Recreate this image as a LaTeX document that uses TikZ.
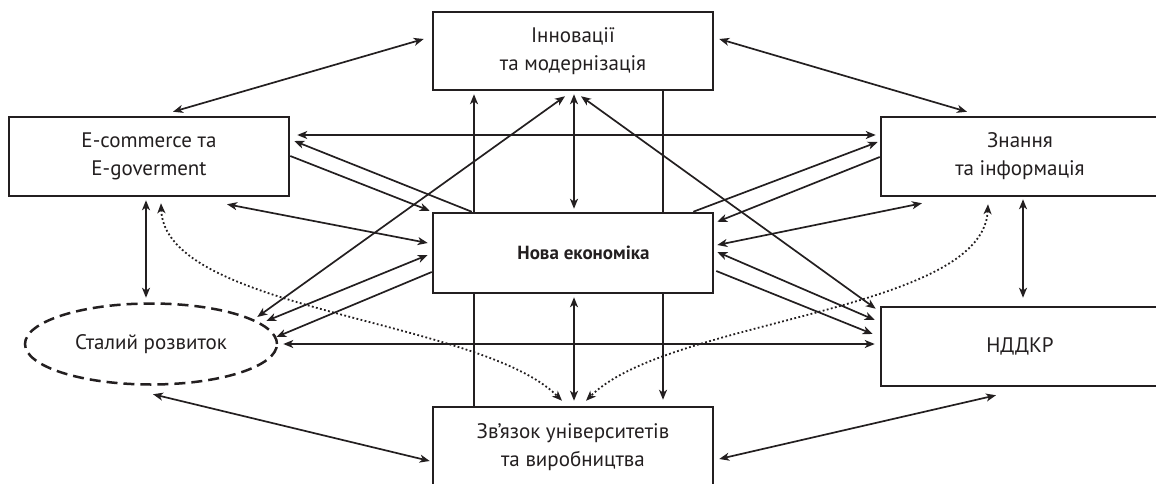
\documentclass[tikz,border=0pt]{standalone}
\usepackage{fontspec}
\setmainfont{PT Sans}
\usetikzlibrary{arrows.meta,shapes.geometric,calc,backgrounds}
\definecolor{ink}{HTML}{231F20}
\begin{document}
\begin{tikzpicture}[x=1pt,y=-1pt,
  >={Stealth[length=10pt,width=8pt,inset=2.8pt]},
  box/.style={draw=ink, line width=2.5pt, fill=white, minimum width=280pt,
    minimum height=79pt, inner sep=0pt, align=center, text=ink,
    font=\fontsize{21}{28}\selectfont},
  oval/.style={ellipse, draw=ink, line width=2.5pt, dash pattern=on 11pt off 6pt,
    fill=white, minimum width=252pt, minimum height=81pt, inner sep=0pt,
    text=ink, font=\fontsize{21}{28}\selectfont},
  conn/.style={draw=ink, line width=1.7pt},
  thickconn/.style={draw=ink, line width=2.5pt},
  dotconn/.style={draw=ink, line width=1.8pt, dash pattern=on 1.8pt off 2.4pt}
]
\useasboundingbox (0,0) rectangle (1156,484);
\clip (0,0) rectangle (1156,484);

\node[box, minimum height=78pt] (inn) at (573,51) {Інновації\\та модернізація};
\node[box] (ecm) at (149,156.5) {E-commerce та\\E-goverment};
\node[box, minimum width=278pt] (kn) at (1020,156.5) {Знання\\та інформація};
\node[box, minimum height=80pt, font=\fontsize{19}{24}\selectfont\bfseries] (eco) at (573,253) {\hspace*{21pt}Нова економіка};
\node[box, minimum width=278pt] (rd) at (1020,346.5) {НДДКР};
\node[box, minimum height=80pt] (uni) at (573,447) {Зв’язок університетів\\та виробництва};
\node[oval] (sd) at (151,344) {Сталий розвиток};

\begin{scope}[on background layer]
% top links
\draw[conn,<->] ($(inn.west)+(-8,-12)$) -- ($(ecm.north)+(24,-4)$);
\draw[conn,<->] ($(inn.east)+(5,-12)$) -- ($(kn.north)+(-53,-4)$);
\draw[conn,<->] ($(ecm.east)+(7,-21.5)$) -- ($(kn.west)+(-4,-21.5)$);
% E-commerce <-> Nova
\draw[conn,->] ($(eco.north west)+(40,0)$) -- ($(ecm.east)+(4,-15.5)$);
\draw[conn,->] ($(ecm.east)+(0,-0.5)$) -- ($(eco.north west)+(-2,-1)$);
\draw[conn,<->] ($(ecm.south)+(78,7)$) -- ($(eco.west)+(-4,-10)$);
% E-commerce <-> Stalyi
\draw[conn,<->] ($(ecm.south)+(-3,3)$) -- ($(sd.north)+(-5,-4.5)$);
% verticals
\draw[thickconn,->] ($(uni.north)+(-99,0)$) -- ($(inn.south)+(-99,3)$);
\draw[conn,->] ($(inn.south)+(90,0)$) -- ($(uni.north)+(90,-6)$);
\draw[conn,<->] ($(inn.south)+(1,3)$) -- ($(eco.north)+(1,-3)$);
\draw[conn,<->] ($(eco.south)+(1,3)$) -- ($(uni.north)+(1,-5)$);
% Innovation diagonals
\draw[conn,<->] ($(inn.south)+(-8,5)$) -- ($(sd.east)+(-21,-27)$);
\draw[conn,<->] ($(inn.south)+(8,5)$) -- ($(rd.north west)+(-4,3)$);
% Nova <-> Stalyi
\draw[conn,<->] ($(eco.west)+(-4,2)$) -- ($(sd.east)+(-12,-23)$);
\draw[conn,->] ($(eco.west)+(0,19)$) -- ($(sd.east)+(-2,-7)$);
\draw[conn,<->] ($(sd.east)+(5,0)$) -- ($(rd.west)+(-5,-2.5)$);
\draw[conn,<->] ($(sd.south)+(2,8.5)$) -- ($(uni.west)+(-2,14)$);
% Nova <-> Znannia
\draw[conn,->] ($(eco.north east)+(-21,0)$) -- ($(kn.west)+(-2,-14.5)$);
\draw[conn,->] ($(kn.west)+(0,0.5)$) -- ($(eco.north east)+(3,10)$);
\draw[conn,<->] ($(kn.south)+(-98,6)$) -- ($(eco.east)+(3,-8)$);
% Nova <-> NDDKR
\draw[conn,<->] ($(eco.east)+(3,-1)$) -- ($(rd.west)+(-5,-26.5)$);
\draw[conn,->] ($(eco.east)+(2,18)$) -- ($(rd.west)+(-7,-12.5)$);
% NDDKR links
\draw[conn,<->] ($(rd.south)+(-24,8)$) -- ($(uni.east)+(5,12)$);
\draw[conn,<->] ($(kn.south)+(3,2)$) -- ($(rd.north)+(3,-8)$);
% dotted curves
\draw[dotconn,<->] ($(ecm.south)+(12,6)$) .. controls +(4,108) and +(-82,-82) .. ($(uni.north)+(-11,-5)$);
\draw[dotconn,<->] ($(kn.south)+(-32,7)$) .. controls +(-5,108) and +(82,-82) .. ($(uni.north)+(13,-5)$);
\end{scope}
\end{tikzpicture}
\end{document}
